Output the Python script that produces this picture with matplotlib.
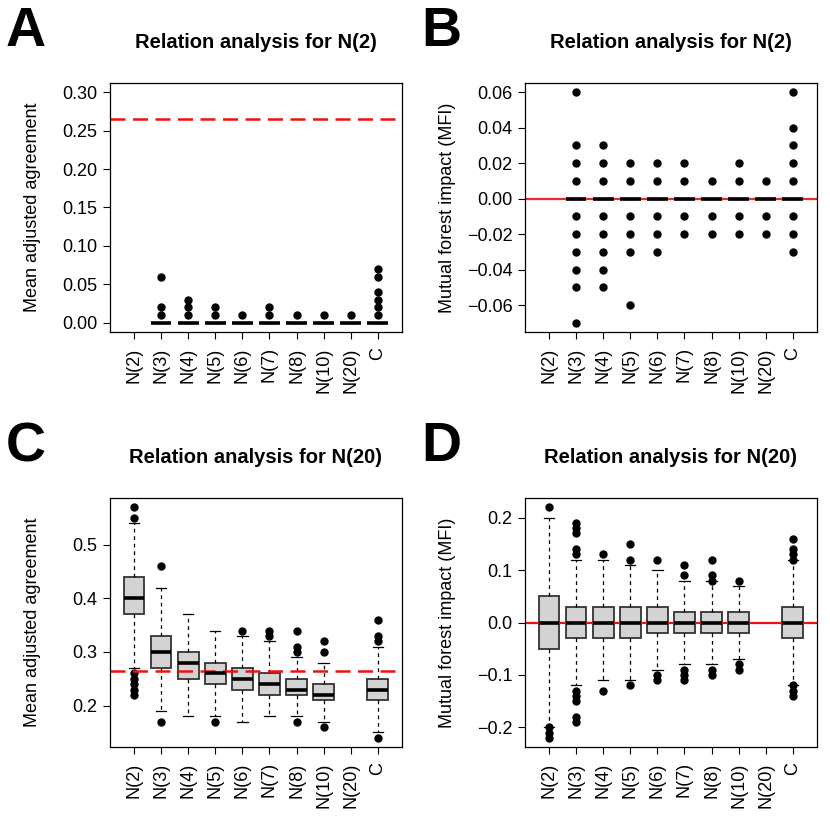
import matplotlib
matplotlib.use("Agg")
import matplotlib.pyplot as plt

plt.rcParams['font.family'] = ['Liberation Sans', 'DejaVu Sans']

labels = ['N(2)', 'N(3)', 'N(4)', 'N(5)', 'N(6)', 'N(7)', 'N(8)', 'N(10)', 'N(20)', 'C']

# panel A: agreement with N(2) -- all boxes collapse to 0
a_med = [None, 0, 0, 0, 0, 0, 0, 0, 0, 0]
a_q1 = [None, 0, 0, 0, 0, 0, 0, 0, 0, 0]
a_q3 = [None, 0, 0, 0, 0, 0, 0, 0, 0, 0]
a_lo = [None, 0, 0, 0, 0, 0, 0, 0, 0, 0]
a_hi = [None, 0, 0, 0, 0, 0, 0, 0, 0, 0]
a_out = [[], [0.01, 0.02, 0.06], [0.01, 0.02, 0.03], [0.01, 0.02], [0.01],
         [0.01, 0.02], [0.01], [0.01], [0.01], [0.01, 0.02, 0.03, 0.04, 0.06, 0.07]]

# panel B: MFI with N(2)
b_med = [None, 0, 0, 0, 0, 0, 0, 0, 0, 0]
b_q1 = [None, 0, 0, 0, 0, 0, 0, 0, 0, 0]
b_q3 = [None, 0, 0, 0, 0, 0, 0, 0, 0, 0]
b_lo = [None, 0, 0, 0, 0, 0, 0, 0, 0, 0]
b_hi = [None, 0, 0, 0, 0, 0, 0, 0, 0, 0]
b_out = [[],
         [0.06, 0.03, 0.02, 0.01, -0.01, -0.02, -0.03, -0.04, -0.05, -0.07],
         [0.03, 0.02, 0.01, -0.01, -0.02, -0.03, -0.04, -0.05],
         [0.02, 0.01, -0.01, -0.02, -0.03, -0.06],
         [0.02, 0.01, -0.01, -0.02, -0.03],
         [0.02, 0.01, -0.01, -0.02],
         [0.01, -0.01, -0.02],
         [0.02, 0.01, -0.01, -0.02],
         [0.01, -0.01, -0.02],
         [0.06, 0.04, 0.03, 0.02, 0.01, -0.01, -0.02, -0.03]]

# panel C: agreement with N(20)
c_med = [0.40, 0.30, 0.28, 0.26, 0.25, 0.24, 0.23, 0.22, None, 0.23]
c_q1 = [0.37, 0.27, 0.25, 0.24, 0.23, 0.22, 0.22, 0.21, None, 0.21]
c_q3 = [0.44, 0.33, 0.30, 0.28, 0.27, 0.26, 0.25, 0.24, None, 0.25]
c_lo = [0.27, 0.19, 0.18, 0.18, 0.17, 0.18, 0.18, 0.17, None, 0.15]
c_hi = [0.54, 0.42, 0.37, 0.34, 0.33, 0.32, 0.29, 0.28, None, 0.31]
c_out = [[0.57, 0.55, 0.26, 0.25, 0.24, 0.23, 0.22], [0.46, 0.17], [], [0.17], [0.34],
         [0.33, 0.34], [0.30, 0.31, 0.34, 0.17], [0.30, 0.32, 0.16], [], [0.32, 0.33, 0.36, 0.14]]

# panel D: MFI with N(20)
d_med = [0, 0, 0, 0, 0, 0, 0, 0, None, 0]
d_q1 = [-0.05, -0.03, -0.03, -0.03, -0.02, -0.02, -0.02, -0.02, None, -0.03]
d_q3 = [0.05, 0.03, 0.03, 0.03, 0.03, 0.02, 0.02, 0.02, None, 0.03]
d_lo = [-0.20, -0.12, -0.11, -0.11, -0.09, -0.08, -0.08, -0.07, None, -0.12]
d_hi = [0.20, 0.12, 0.12, 0.11, 0.10, 0.08, 0.08, 0.07, None, 0.12]
d_out = [[0.22, -0.20, -0.21, -0.22],
         [0.13, 0.14, 0.17, 0.18, 0.19, -0.13, -0.14, -0.15, -0.18, -0.19],
         [0.13, -0.13], [0.12, 0.15, -0.12], [0.12, -0.10, -0.11],
         [0.09, 0.11, -0.09, -0.10, -0.11], [0.08, 0.09, 0.12, -0.09, -0.10],
         [0.08, -0.08, -0.09], [], [0.12, 0.13, 0.14, 0.16, -0.12, -0.13, -0.14]]

random_line = 0.265


def make_stats(med, q1, q3, lo, hi, out):
    stats = []
    pos = []
    for i in range(len(labels)):
        if med[i] is None:
            continue
        stats.append(dict(med=med[i], q1=q1[i], q3=q3[i], whislo=lo[i], whishi=hi[i], fliers=out[i]))
        pos.append(i + 1)
    return stats, pos


def draw_panel(ax, stats, pos, ylim, yticks, fmt):
    ax.bxp(stats, positions=pos, widths=0.75, patch_artist=True,
           boxprops=dict(facecolor='#d3d3d3', edgecolor='#333333', linewidth=1.3),
           medianprops=dict(color='black', linewidth=2.6, solid_capstyle='butt'),
           whiskerprops=dict(color='black', linewidth=0.9, linestyle=(0, (3, 3))),
           capprops=dict(color='black', linewidth=0.9),
           capwidths=0.375,
           flierprops=dict(marker='o', markerfacecolor='black', markeredgecolor='black',
                           markersize=5, linestyle='none'))
    ax.set_xlim(0.1, 10.9)
    ax.set_ylim(*ylim)
    ax.set_xticks(range(1, 11))
    ax.set_xticklabels(labels, rotation=90)
    ax.set_yticks(yticks)
    ax.set_yticklabels([fmt(v) for v in yticks])
    ax.tick_params(direction='out', length=5, width=0.8, labelsize=13, pad=4)
    ax.tick_params(axis='x', pad=6)
    for s in ax.spines.values():
        s.set_linewidth(0.9)


def yfmt2(v):
    return ('%.2f' % v).replace('-', '\u2212')


def yfmt1(v):
    return ('%.1f' % v).replace('-', '\u2212')


fig = plt.figure(figsize=(8.3, 8.3), dpi=100)

W, H = 0.3518, 0.3
axA = fig.add_axes([0.1325, 0.6, W, H])
axB = fig.add_axes([0.6325, 0.6, W, H])
axC = fig.add_axes([0.1325, 0.1, W, H])
axD = fig.add_axes([0.6325, 0.1, W, H])

s, p = make_stats(a_med, a_q1, a_q3, a_lo, a_hi, a_out)
draw_panel(axA, s, p, (-0.012, 0.312), [0, 0.05, 0.10, 0.15, 0.20, 0.25, 0.30], yfmt2)
axA.axhline(random_line, color='#ee1111', linestyle=(0, (6, 3)), linewidth=1.8)

s, p = make_stats(b_med, b_q1, b_q3, b_lo, b_hi, b_out)
draw_panel(axB, s, p, (-0.0752, 0.0652), [-0.06, -0.04, -0.02, 0, 0.02, 0.04, 0.06], yfmt2)
axB.axhline(0, color='#ee1111', linewidth=1.6, alpha=0.9)

s, p = make_stats(c_med, c_q1, c_q3, c_lo, c_hi, c_out)
draw_panel(axC, s, p, (0.1228, 0.5872), [0.2, 0.3, 0.4, 0.5], yfmt1)
axC.axhline(random_line, color='#ee1111', linestyle=(0, (6, 3)), linewidth=1.8)

s, p = make_stats(d_med, d_q1, d_q3, d_lo, d_hi, d_out)
draw_panel(axD, s, p, (-0.2376, 0.2376), [-0.2, -0.1, 0, 0.1, 0.2], yfmt1)
axD.axhline(0, color='#ee1111', linewidth=1.6)

# titles, y labels and panel letters
for ax, title, ylab, letter in [(axA, 'Relation analysis for N(2)', 'Mean adjusted agreement', 'A'),
                                (axB, 'Relation analysis for N(2)', 'Mutual forest impact (MFI)', 'B'),
                                (axC, 'Relation analysis for N(20)', 'Mean adjusted agreement', 'C'),
                                (axD, 'Relation analysis for N(20)', 'Mutual forest impact (MFI)', 'D')]:
    bb = ax.get_position()
    fig.text((bb.x0 + bb.x1) / 2, bb.y1 + 41 / 830, title, ha='center', va='center',
             fontsize=14.5, fontweight='bold')
    fig.text(bb.x0 - 77 / 830, (bb.y0 + bb.y1) / 2, ylab, rotation=90, ha='center', va='center',
             fontsize=13)
    fig.text(bb.x0 - 104 / 830, bb.y1 + 37 / 830, letter, ha='left', va='baseline',
             fontsize=40, fontweight='bold')

fig.savefig('out.png', dpi=100)
